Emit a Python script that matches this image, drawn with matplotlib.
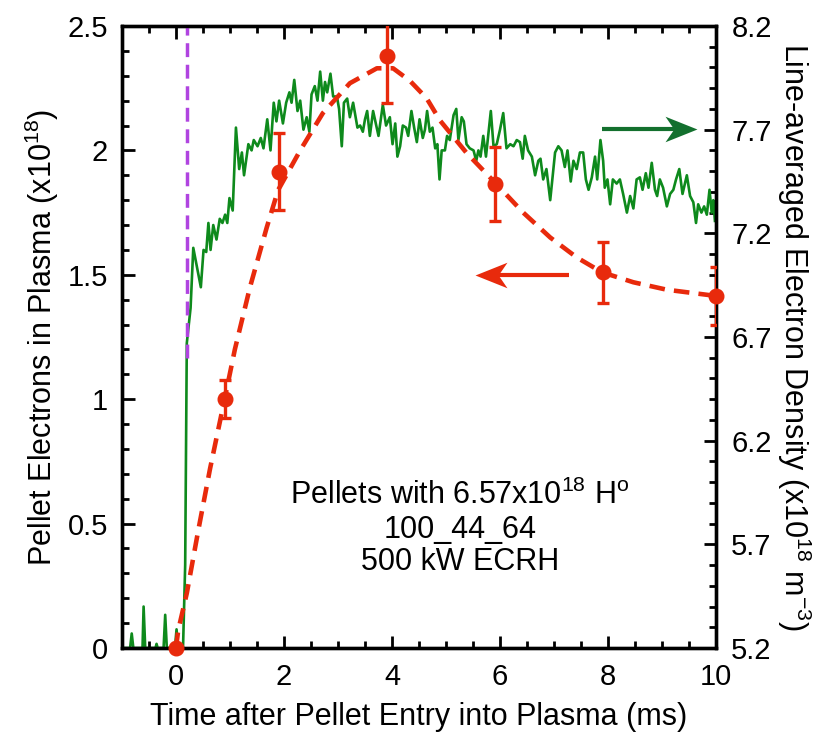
import matplotlib
matplotlib.use("Agg")
import matplotlib.pyplot as plt
from matplotlib.ticker import MultipleLocator, FormatStrFormatter, FixedLocator, FuncFormatter
from matplotlib.path import Path

plt.rcParams['font.family'] = ['Liberation Sans', 'DejaVu Sans']
plt.rcParams['mathtext.fontset'] = 'custom'
plt.rcParams['mathtext.rm'] = 'Liberation Sans'
plt.rcParams['mathtext.it'] = 'Liberation Sans'
plt.rcParams['mathtext.default'] = 'regular'

# Pellet electrons (left axis, x10^18)
pt_time = [0.0, 0.9, 1.9, 3.9, 5.9, 7.9, 10.0]
pt_val = [0.0, 1.0, 1.915, 2.38, 1.865, 1.51, 1.415]
pt_err = [0.0, 0.077, 0.155, 0.19, 0.15, 0.123, 0.115]

# Dashed fit curve (left axis)
fit_time = [0.0, 0.04, 0.2, 0.41, 0.63, 0.9, 1.09, 1.37, 1.68, 1.89, 2.3, 2.72,
            3.22, 3.72, 4.02, 4.33, 4.64, 4.89, 5.38, 5.91, 6.43, 6.93, 7.42,
            7.89, 8.47, 9.09, 10.0]
fit_val = [0.0, 0.07, 0.22, 0.47, 0.72, 1.0, 1.2, 1.45, 1.69, 1.84, 2.0, 2.15,
           2.27, 2.33, 2.33, 2.28, 2.21, 2.12, 1.99, 1.87, 1.75, 1.65, 1.57,
           1.51, 1.47, 1.44, 1.415]

# Line-averaged electron density (right axis, x10^18 m^-3)
dens_time = [-1.00, -0.85, -0.82, -0.79, -0.62, -0.60, -0.57, -0.38, -0.36, -0.34,
             -0.23, -0.20, -0.17, -0.02, 0.01, 0.04, 0.13, 0.17, 0.20, 0.27,
             0.32, 0.46, 0.51, 0.56, 0.60, 0.64, 0.69, 0.75, 0.81, 0.86,
             0.91, 0.95, 0.99, 1.05, 1.11, 1.17, 1.22, 1.26, 1.34, 1.40,
             1.44, 1.51, 1.57, 1.62, 1.69, 1.75, 1.81, 1.86, 1.91, 1.98,
             2.04, 2.10, 2.14, 2.19, 2.25, 2.30, 2.36, 2.42, 2.47, 2.51,
             2.57, 2.62, 2.67, 2.72, 2.76, 2.80, 2.86, 2.91, 2.98, 3.02,
             3.07, 3.11, 3.17, 3.22, 3.28, 3.36, 3.41, 3.46, 3.50, 3.54,
             3.59, 3.65, 3.70, 3.75, 3.83, 3.89, 3.96, 4.01, 4.06, 4.10,
             4.15, 4.20, 4.26, 4.30, 4.36, 4.41, 4.46, 4.51, 4.57, 4.61,
             4.65, 4.70, 4.75, 4.80, 4.84, 4.88, 4.92, 4.98, 5.02, 5.07,
             5.14, 5.19, 5.23, 5.29, 5.33, 5.38, 5.44, 5.51, 5.56, 5.60,
             5.64, 5.69, 5.74, 5.78, 5.83, 5.88, 5.94, 6.00, 6.06, 6.12,
             6.19, 6.25, 6.31, 6.37, 6.42, 6.46, 6.52, 6.59, 6.65, 6.71,
             6.75, 6.80, 6.86, 6.93, 6.98, 7.02, 7.08, 7.14, 7.20, 7.25,
             7.31, 7.36, 7.42, 7.48, 7.54, 7.59, 7.64, 7.70, 7.76, 7.80,
             7.86, 7.91, 7.94, 7.99, 8.04, 8.09, 8.16, 8.22, 8.28, 8.35,
             8.41, 8.47, 8.53, 8.59, 8.64, 8.70, 8.75, 8.81, 8.87, 8.91,
             8.96, 9.02, 9.09, 9.15, 9.21, 9.26, 9.32, 9.38, 9.46, 9.52,
             9.58, 9.63, 9.67, 9.73, 9.78, 9.83, 9.88, 9.92, 9.95, 9.98]
dens_val = [5.20, 5.20, 5.27, 5.20, 5.20, 5.40, 5.20, 5.20, 5.22, 5.20,
            5.20, 5.36, 5.20, 5.20, 5.29, 5.20, 5.20, 5.60, 6.67, 6.84,
            7.13, 6.94, 7.12, 7.11, 7.25, 7.12, 7.24, 7.17, 7.27, 7.25,
            7.29, 7.25, 7.37, 7.31, 7.71, 7.51, 7.59, 7.48, 7.63, 7.60,
            7.65, 7.62, 7.66, 7.61, 7.75, 7.60, 7.83, 7.74, 7.84, 7.73,
            7.83, 7.88, 7.83, 7.94, 7.79, 7.84, 7.70, 7.76, 7.69, 7.87,
            7.91, 7.84, 7.98, 7.84, 7.93, 7.88, 7.97, 7.86, 7.86, 7.80,
            7.62, 7.83, 7.85, 7.76, 7.83, 7.71, 7.72, 7.69, 7.75, 7.79,
            7.67, 7.79, 7.73, 7.67, 7.82, 7.72, 7.76, 7.63, 7.73, 7.57,
            7.62, 7.72, 7.71, 7.67, 7.79, 7.71, 7.64, 7.75, 7.66, 7.70,
            7.79, 7.69, 7.71, 7.61, 7.63, 7.46, 7.60, 7.60, 7.67, 7.65,
            7.77, 7.80, 7.65, 7.76, 7.74, 7.63, 7.61, 7.60, 7.55, 7.60,
            7.57, 7.67, 7.57, 7.67, 7.79, 7.62, 7.63, 7.70, 7.78, 7.61,
            7.63, 7.62, 7.65, 7.64, 7.56, 7.67, 7.60, 7.57, 7.48, 7.55,
            7.56, 7.46, 7.51, 7.36, 7.49, 7.59, 7.62, 7.60, 7.52, 7.60,
            7.45, 7.55, 7.51, 7.59, 7.59, 7.46, 7.41, 7.47, 7.57, 7.46,
            7.65, 7.55, 7.42, 7.46, 7.34, 7.46, 7.44, 7.46, 7.39, 7.30,
            7.38, 7.32, 7.46, 7.47, 7.41, 7.49, 7.42, 7.54, 7.41, 7.38,
            7.46, 7.42, 7.33, 7.39, 7.41, 7.46, 7.51, 7.39, 7.48, 7.38,
            7.35, 7.25, 7.34, 7.30, 7.33, 7.29, 7.41, 7.30, 7.36, 7.26]

pellet_entry = 0.2
pellet_line_top = [1.165, 2.5]

right_ticks = [5.2, 5.7, 6.2, 6.7, 7.2, 7.7, 8.2]

# arrows: (start_x, tip_x, y) in left-axis data units
green_arrow = (7.88, 9.51, 2.086)
red_arrow = (7.28, 5.68, 1.499)

RED = '#e82a0c'
GREEN = '#0e8a1c'
DKGREEN = '#13702e'
PURPLE = '#b044e0'
FS_TICK = 21
FS_LAB = 22
FS_TXT = 22

fig = plt.figure(figsize=(8.33, 7.44), dpi=100)
ax = fig.add_axes([122/833, 1-648/744, (716-122)/833, (648-26)/744])
ax2 = ax.twinx()
ax.set_zorder(ax2.get_zorder() + 1)
ax.patch.set_visible(False)

ax2.plot(dens_time, dens_val, color=GREEN, lw=1.9, zorder=2)

ax.plot([pellet_entry, pellet_entry], pellet_line_top, color=PURPLE, lw=2.5,
        linestyle=(0, (4.0, 2.2)), zorder=1)
ax.plot(fit_time, fit_val, color=RED, lw=3.3, linestyle=(0, (3.4, 2.0)), zorder=3)
ax.errorbar(pt_time, pt_val, yerr=pt_err, fmt='none', ecolor=RED, elinewidth=2.4,
            capsize=4.5, capthick=2.4, zorder=4)
ax.plot(pt_time, pt_val, 'o', color=RED, ms=10.5, zorder=5, clip_on=False)

ax.set_xlim(-1, 10)
ax.set_ylim(0, 2.5)
ax2.set_ylim(right_ticks[0], right_ticks[-1])

ax.xaxis.set_major_locator(MultipleLocator(2))
ax.xaxis.set_minor_locator(MultipleLocator(0.5))
ax.yaxis.set_major_locator(MultipleLocator(0.5))
ax.yaxis.set_minor_locator(MultipleLocator(0.1))
ax.yaxis.set_major_formatter(FuncFormatter(lambda v, p: f'{v:g}'))
ax2.yaxis.set_major_locator(FixedLocator(right_ticks))
ax2.yaxis.set_minor_locator(MultipleLocator(0.1))
ax2.yaxis.set_major_formatter(FormatStrFormatter('%.1f'))

ax.tick_params(axis='x', which='both', direction='in', top=True, bottom=True,
               labelsize=FS_TICK, pad=11)
ax.tick_params(axis='y', which='both', direction='in', left=True, right=False,
               labelsize=FS_TICK, pad=10)
ax2.tick_params(axis='y', which='both', direction='in', left=False, right=True,
                labelsize=FS_TICK, pad=11)
for a in (ax, ax2):
    a.tick_params(which='major', length=9, width=2)
    a.tick_params(which='minor', length=5, width=2)
    for s in a.spines.values():
        s.set_linewidth(2.4)

ax.set_xlabel('Time after Pellet Entry into Plasma (ms)', fontsize=FS_LAB, labelpad=8)
ax.set_ylabel('Pellet Electrons in Plasma (x10$^{18}$)', fontsize=FS_LAB, labelpad=5)
ax2.set_ylabel('Line-averaged Electron Density (x10$^{18}$ m$^{-3}$)', fontsize=FS_LAB,
               rotation=-90, labelpad=30)

# notched arrow head marker (pointing right / left)
head = Path([(1, 0), (-1, 0.8), (-0.45, 0), (-1, -0.8), (1, 0)],
            [Path.MOVETO, Path.LINETO, Path.LINETO, Path.LINETO, Path.CLOSEPOLY])
head_left = Path([(-1, 0), (1, 0.8), (0.45, 0), (1, -0.8), (-1, 0)],
                 [Path.MOVETO, Path.LINETO, Path.LINETO, Path.LINETO, Path.CLOSEPOLY])
hl = 0.3

x0, x1, y = green_arrow
ax.plot([x0, x1 - hl * 0.6], [y, y], color=DKGREEN, lw=3, solid_capstyle='butt')
ax.plot([x1 - hl / 2], [y], marker=head, ms=23, color=DKGREEN, mew=0)
x0, x1, y = red_arrow
ax.plot([x0, x1 + hl * 0.6], [y, y], color=RED, lw=3, solid_capstyle='butt')
ax.plot([x1 + hl / 2], [y], marker=head_left, ms=23, color=RED, mew=0)

ax.text(5.26, 0.615, 'Pellets with 6.57x10$^{18}$ H$^{o}$', fontsize=FS_TXT,
        ha='center', va='center')
ax.text(5.26, 0.475, '100_44_64', fontsize=FS_TXT, ha='center', va='center')
ax.text(5.26, 0.345, '500 kW ECRH', fontsize=FS_TXT, ha='center', va='center')

fig.savefig('out.png', dpi=100)
